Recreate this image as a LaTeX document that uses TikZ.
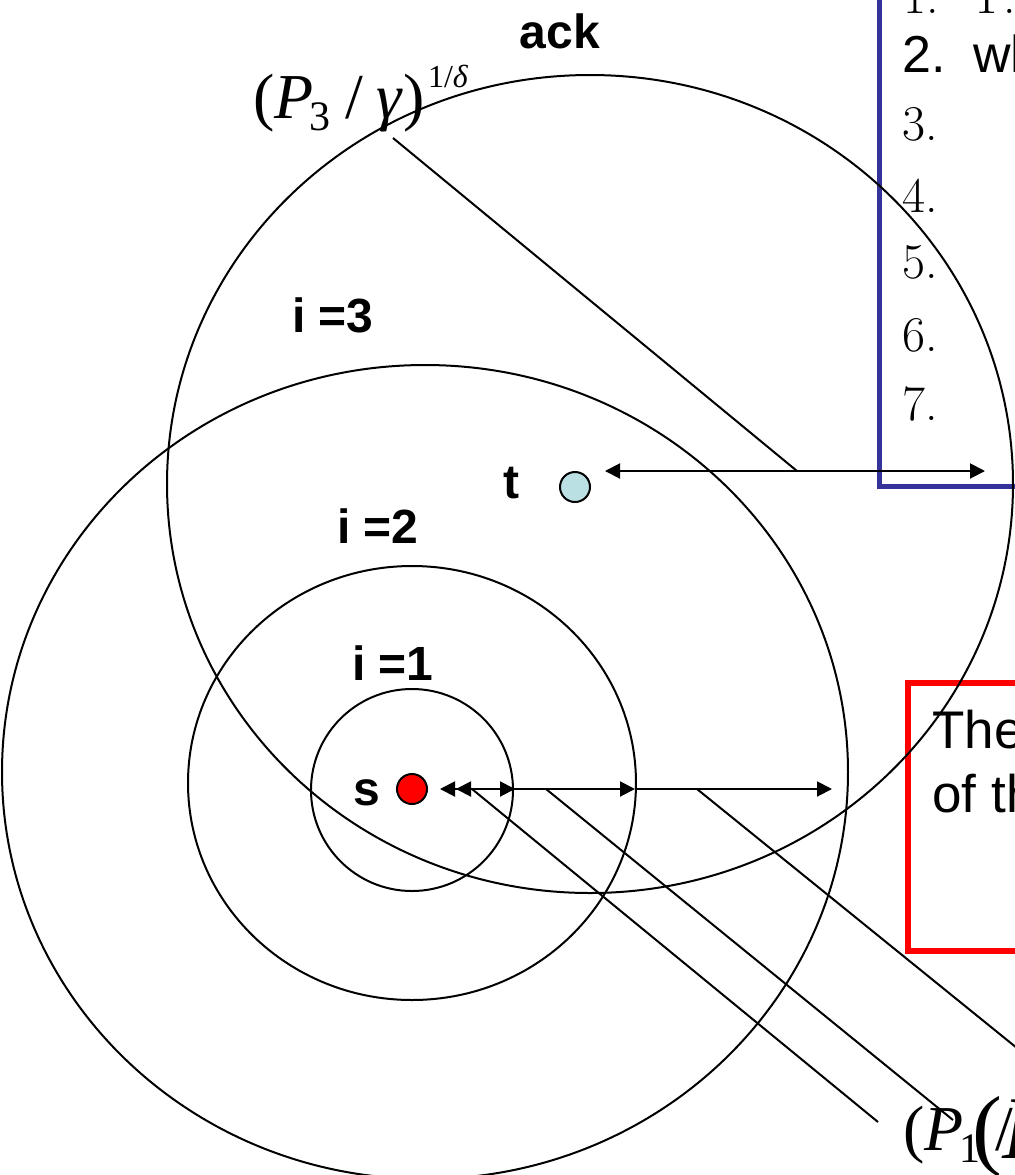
\documentclass[tikz,border=0pt]{standalone}
\usepackage{fontspec}
\newfontfamily\arial{Liberation Sans}
\newfontfamily\eqfont{Liberation Serif}
\usetikzlibrary{arrows.meta}
\definecolor{boxblue}{RGB}{51,51,153}
\definecolor{tblue}{RGB}{187,224,227}
\newcommand{\rlabel}[1]{(\textit{P}\kern-0.06em\raisebox{-0.2em}{\fontsize{21}{22}\selectfont #1}\kern0.22em/\kern0.22em\textit{γ})\kern0.05em\raisebox{0.47em}{\fontsize{16}{17}\selectfont 1/\textit{δ}}}
\begin{document}
\begin{tikzpicture}[x=0.5pt,y=-0.5pt,
    ring/.style={line width=1pt},
    lbl/.style={font=\arial\bfseries\fontsize{24}{28}\selectfont,inner sep=0pt},
    dot/.style={circle,draw,line width=1pt,minimum size=15pt,inner sep=0pt},
    dimarr/.style={line width=1pt,{Triangle[length=7.5pt,width=7.5pt]}-{Triangle[length=7.5pt,width=7.5pt]}},
    onearr/.style={line width=1pt,-{Triangle[length=7.5pt,width=7.5pt]}},
    lead/.style={line width=1pt},
    eq/.style={font=\eqfont\fontsize{32}{36}\selectfont,inner sep=0pt,anchor=base west},
    num/.style={font=\fontsize{25}{30}\selectfont,inner sep=0pt,anchor=base west},
    txt/.style={font=\arial\fontsize{26.5}{32}\selectfont,inner sep=0pt,anchor=base west}]
\useasboundingbox (0,0) rectangle (1015,1175);
\clip (0,0) rectangle (1015,1175);
\draw[line width=2.5pt,boxblue] (879,-20) -- (879,486) -- (1040,486);
\draw[line width=3pt,red] (908,683) rectangle (1040,951);
\node[num] (n1) at (903,13) {\makebox[33.5pt][l]{1.}T.};
\node[txt,font=\arial\fontsize{26}{30}\selectfont] (n2) at (902,72) {\makebox[35.5pt][l]{2.}wh};
\foreach \k/\yy in {3/140,4/212,5/278,6/351,7/420}
  \node[num] (n\k) at (902,\yy) {\k.};
\node[txt] (rt1) at (932,748) {The};
\node[txt] (rt2) at (932,812) {of th};
\draw[ring] (412,790) circle [radius=101];
\draw[ring] (412,783) ellipse [x radius=224, y radius=217];
\draw[ring] (425,772) ellipse [x radius=423, y radius=407];
\draw[ring] (590,484) ellipse [x radius=423, y radius=409];
\node[dot,fill=red] (s) at (412,789) {};
\node[dot,fill=tblue] (t) at (575,487) {};
\node[lbl] (ls) at (367,793) {s};
\node[lbl] (lt) at (511,483) {t};
\node[lbl] (l1) at (393,663) {i =1};
\node[lbl] (l2) at (378,526) {i =2};
\node[lbl] (l3) at (333,315) {i =3};
\node[lbl] (ack) at (560,31) {ack};
\node[eq] (p3) at (253,118) {\rlabel{3}};
\node[eq] (p1) at (903,1150) {\rlabel{1}};
\node[eq,scale=1.4] (p2) at (972,1158) {\rlabel{2}};
\coordinate (ta) at (605,471);
\coordinate (tb) at (985,471);
\coordinate (tk) at (797,471);
\coordinate (p3foot) at (393,138);
\draw[dimarr] (ta) -- (tb);
\draw[lead] (p3foot) -- (tk);
\coordinate (sa) at (440,789);
\coordinate (sb) at (456,789);
\coordinate (r1) at (515,789);
\coordinate (r2) at (635,789);
\coordinate (r3) at (832,789);
\draw[dimarr] (sb) -- (r1);
\draw[dimarr] (sa) -- (r2);
\draw[onearr] (r2) -- (r3);
\coordinate (k1) at (472,789);
\coordinate (k2) at (546,789);
\coordinate (k3) at (697,789);
\coordinate (e1) at (878,1122);
\coordinate (e2) at (953,1120);
\coordinate (e3) at (1075,1095);
\draw[lead] (k1) -- (e1);
\draw[lead] (k2) -- (e2);
\draw[lead] (k3) -- (e3);
\end{tikzpicture}
\end{document}
